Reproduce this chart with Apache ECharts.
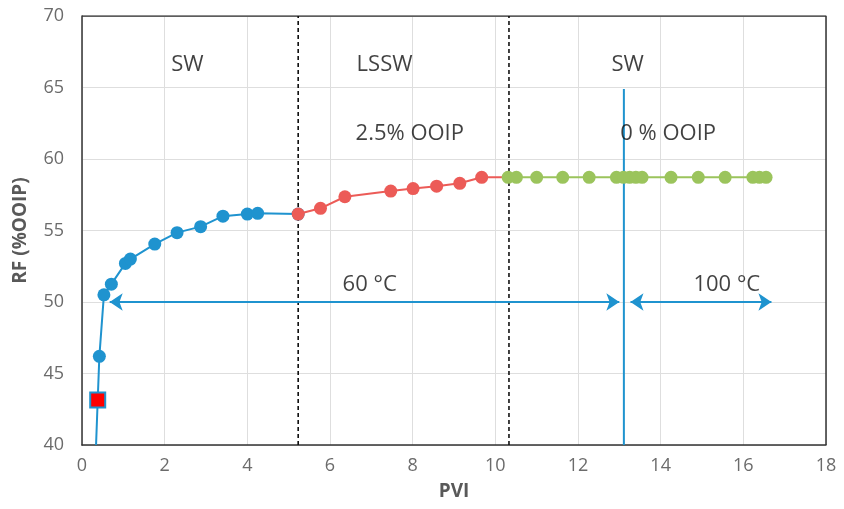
<!DOCTYPE html>
<html>
<head>
<meta charset="utf-8">
<title>RF vs PVI</title>
<script src="https://cdn.jsdelivr.net/npm/echarts@6/dist/echarts.min.js"></script>
<style>
  html, body { margin: 0; padding: 0; background: #fff; }
  #chart { width: 844px; height: 509px; }
</style>
</head>
<body>
<div id="chart"></div>
<script>
// Stage 1: secondary waterflood (SW), 60 °C
const swPvi = [0.34, 0.38, 0.42, 0.53, 0.71, 1.05, 1.17, 1.76, 2.30, 2.87, 3.41, 4.00, 4.25, 5.23];
const swRf  = [40.0, 43.15, 46.2, 50.5, 51.25, 52.7, 53.0, 54.05, 54.85, 55.27, 56.0, 56.15, 56.2, 56.15];

// Stage 2: low salinity waterflood (LSSW), 60 °C
const lsswPvi = [5.23, 5.77, 6.36, 7.47, 8.01, 8.58, 9.14, 9.67, 10.31];
const lsswRf  = [56.15, 56.55, 57.36, 57.76, 57.93, 58.1, 58.3, 58.72, 58.72];

// Stage 3: waterflood (SW), 100 °C
const sw2Pvi = [10.31, 10.51, 11.0, 11.63, 12.27, 12.93, 13.1, 13.25, 13.4, 13.55, 14.25, 14.91, 15.56, 16.23, 16.39, 16.55];
const sw2Rf  = [58.72, 58.72, 58.72, 58.72, 58.72, 58.72, 58.72, 58.72, 58.72, 58.72, 58.72, 58.72, 58.72, 58.72, 58.72, 58.72];

// Breakthrough marker
const btPvi = [0.38];
const btRf  = [43.15];

// Stage boundaries
const lsswStart = 5.23;
const lsswEnd = 10.33;
const tempSwitch = 13.11;
const tempSwitchTop = 64.9;

// Temperature ranges (arrow ends)
const range60 = [0.67, 13.0];
const range100 = [13.27, 16.68];
const arrowLevel = 50.0;

// Annotation texts and anchor points [pvi, rf, text]
const notes = [
  [2.55, 66.6, 'SW'],
  [7.32, 66.6, 'LSSW'],
  [13.2, 66.6, 'SW'],
  [7.93, 61.8, '2.5% OOIP'],
  [14.18, 61.8, '0 % OOIP'],
  [6.96, 51.2, '60 °C'],
  [15.6, 51.2, '100 °C']
];

const BLUE = '#1f93cf';
const RED = '#ec5b57';
const GREEN = '#9bc45c';
const FONT = '"Open Sans", "Noto Sans", sans-serif';

const zip = (xs, ys) => xs.map((x, i) => [x, ys[i]]);

const chart = echarts.init(document.getElementById('chart'), null, { renderer: 'canvas' });

const swData = zip(swPvi, swRf).map((p, i) => {
  // first point anchors the curve at the axis; second is the breakthrough square
  if (i <= 1) return { value: p, symbolSize: 0 };
  return p;
});

chart.setOption({
  animation: false,
  grid: { left: 82, right: 18, top: 16, bottom: 64, containLabel: false },
  xAxis: {
    type: 'value', min: 0, max: 18, interval: 2,
    name: 'PVI', nameLocation: 'middle', nameGap: 37,
    nameTextStyle: { fontFamily: FONT, fontSize: 19, fontWeight: 'bold', color: '#595959' },
    axisLine: { show: true, onZero: false, lineStyle: { color: '#333', width: 1.5 } },
    axisTick: { show: false },
    axisLabel: { fontFamily: FONT, fontSize: 18, color: '#6b6b6b', margin: 12 },
    splitLine: { show: true, lineStyle: { color: '#dedede', width: 1 } }
  },
  yAxis: {
    type: 'value', min: 40, max: 70, interval: 5,
    name: 'RF (%OOIP)', nameLocation: 'middle', nameGap: 52, nameRotate: 90,
    nameTextStyle: { fontFamily: FONT, fontSize: 19, fontWeight: 'bold', color: '#595959' },
    axisLine: { show: true, onZero: false, lineStyle: { color: '#333', width: 1.5 } },
    axisTick: { show: false },
    axisLabel: { fontFamily: FONT, fontSize: 18, color: '#6b6b6b', margin: 18 },
    splitLine: { show: true, lineStyle: { color: '#dedede', width: 1 } }
  },
  series: [
    // plot frame (top and right edges)
    {
      type: 'line', silent: true, symbol: 'none', z: 1,
      lineStyle: { color: '#333', width: 1.5 },
      data: [[0, 70], [18, 70], [18, 40]]
    },
    // stage boundaries
    {
      type: 'line', silent: true, symbol: 'none', z: 3,
      lineStyle: { color: '#111', width: 1.6, type: [4, 3] },
      data: [[lsswStart, 40], [lsswStart, 70]]
    },
    {
      type: 'line', silent: true, symbol: 'none', z: 3,
      lineStyle: { color: '#111', width: 1.6, type: [4, 3] },
      data: [[lsswEnd, 40], [lsswEnd, 70]]
    },
    {
      type: 'line', silent: true, symbol: 'none', z: 3,
      lineStyle: { color: BLUE, width: 2 },
      data: [[tempSwitch, 40], [tempSwitch, tempSwitchTop]]
    },
    // temperature range arrows
    {
      type: 'line', silent: true, symbol: 'none', z: 2,
      data: [],
      markLine: {
        silent: true, animation: false,
        symbol: ['arrow', 'arrow'], symbolSize: [13, 13],
        label: { show: false },
        lineStyle: { color: BLUE, width: 2, type: 'solid' },
        data: [
          [{ coord: [range60[0], arrowLevel] }, { coord: [range60[1], arrowLevel] }],
          [{ coord: [range100[0], arrowLevel] }, { coord: [range100[1], arrowLevel] }]
        ]
      }
    },
    // recovery curves
    {
      name: 'SW 60', type: 'line', z: 5,
      symbol: 'circle', symbolSize: 13, showAllSymbol: true,
      lineStyle: { color: BLUE, width: 2 },
      itemStyle: { color: BLUE },
      data: swData
    },
    {
      name: 'LSSW', type: 'line', z: 6,
      symbol: 'circle', symbolSize: 13, showAllSymbol: true,
      lineStyle: { color: RED, width: 2 },
      itemStyle: { color: RED },
      data: zip(lsswPvi, lsswRf).map((p, i, a) => i === a.length - 1 ? { value: p, symbolSize: 0 } : p)
    },
    {
      name: 'SW 100', type: 'line', z: 7,
      symbol: 'circle', symbolSize: 13, showAllSymbol: true,
      lineStyle: { color: GREEN, width: 2 },
      itemStyle: { color: GREEN },
      data: zip(sw2Pvi, sw2Rf)
    },
    {
      name: 'Breakthrough', type: 'scatter', z: 8,
      symbol: 'rect', symbolSize: 15,
      itemStyle: { color: '#ff0000', borderColor: BLUE, borderWidth: 2, opacity: 1 },
      data: zip(btPvi, btRf)
    },
    // annotations
    {
      type: 'scatter', silent: true, z: 9,
      symbolSize: 0,
      data: notes.map(n => ({ value: [n[0], n[1]], name: n[2] })),
      label: {
        show: true, position: 'inside',
        formatter: p => p.name,
        fontFamily: FONT, fontSize: 22, color: '#111',
        textBorderWidth: 0
      }
    }
  ]
});
</script>
</body>
</html>
